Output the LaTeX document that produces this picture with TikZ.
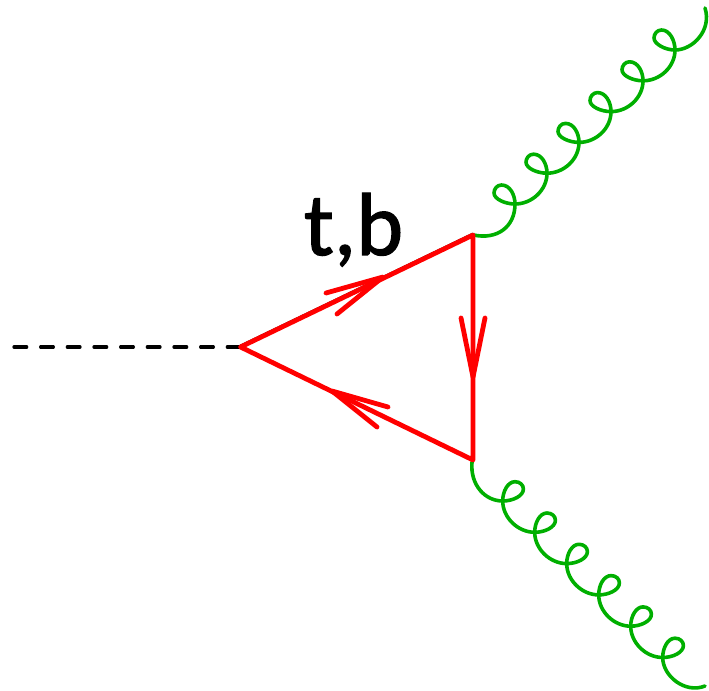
\documentclass[tikz,border=0pt]{standalone}
\usepackage{fontspec}
\setmainfont{Carlito}[FakeBold=1.4]
\definecolor{gluon}{RGB}{0,175,0}
\definecolor{quark}{RGB}{255,0,0}
\tikzset{
  x=0.75pt,y=-0.75pt,
  quarkline/.style={draw=quark,line width=3.6pt,line cap=round,line join=round},
  gluonline/.style={draw=gluon,line width=2.7pt,line cap=round,line join=round},
  scalarline/.style={draw=black,line width=2.5pt,line cap=round,dash pattern=on 9.5pt off 10.5pt},
  thinline/.style={draw=black,line width=1.6pt},
  labeltext/.style={font=\fontsize{67pt}{67pt}\selectfont,text=black,inner sep=0pt,anchor=base}
}
\begin{document}
\begin{tikzpicture}
\useasboundingbox (0,0) rectangle (709,691);
\coordinate (ext) at (14,347);
\coordinate (A) at (240.5,347);
\coordinate (B) at (473,235);
\coordinate (C) at (473,460);
\draw[scalarline] (ext) -- (A);
\draw[thinline] ([yshift=1pt]A) -- ([yshift=1pt]B);
% top gluon: six loops, period (32,-30.8)
\draw[gluonline] (473.5,235) .. controls (497,240) and (515,227) .. (515,204)
\foreach \i in {0,...,4}{
  .. controls ({515+32*\i},{204-30.8*\i-9}) and ({510+32*\i},{185-30.8*\i}) .. ({501.5+32*\i},{185-30.8*\i})
  .. controls ({497+32*\i},{185-30.8*\i}) and ({494+32*\i},{189-30.8*\i}) .. ({494+32*\i},{193-30.8*\i})
  .. controls ({494+32*\i},{199-30.8*\i}) and ({505+32*\i},{204-30.8*\i}) .. ({515+32*\i},{204-30.8*\i})
  .. controls ({532+32*\i},{204-30.8*\i}) and ({547+32*\i},{190-30.8*\i}) .. ({547+32*\i},{173.2-30.8*\i})
}
  .. controls (675,41) and (670,30) .. (661.5,30)
  .. controls (657,30) and (654,34) .. (654,38)
  .. controls (654,44) and (665,50) .. (675,50)
  .. controls (693,50) and (712,30) .. (705,8);
% bottom gluon: six loops, period (32,31.3)
\draw[gluonline] (472,462) .. controls (470,485) and (485,501) .. (502.7,501)
\foreach \i in {0,...,4}{
  .. controls ({512.7+32*\i},{501+31.3*\i}) and ({523.4+32*\i},{496+31.3*\i}) .. ({523.4+32*\i},{489+31.3*\i})
  .. controls ({523.4+32*\i},{485+31.3*\i}) and ({520+32*\i},{481.7+31.3*\i}) .. ({515+32*\i},{481.7+31.3*\i})
  .. controls ({508+32*\i},{481.7+31.3*\i}) and ({502.7+32*\i},{491+31.3*\i}) .. ({502.7+32*\i},{501+31.3*\i})
  .. controls ({502.7+32*\i},{517.7+31.3*\i}) and ({518+32*\i},{532.3+31.3*\i}) .. ({534.7+32*\i},{532.3+31.3*\i})
}
  .. controls (672.7,657.5) and (683.4,652.5) .. (683.4,645.5)
  .. controls (683.4,641.5) and (680,638.2) .. (675,638.2)
  .. controls (668,638.2) and (662.7,647.5) .. (662.7,657.5)
  .. controls (662.7,676) and (685,694) .. (705,686);
\draw[quarkline] (A) -- (B) -- (C) -- cycle;
% arrowheads
\draw[quarkline] (326,293) -- (383,277) -- (337,314);
\draw[quarkline] (461,318) -- (473,377) -- (485,318);
\draw[quarkline] (388,407) -- (332,391) -- (377,427);
\node[labeltext] (lab) at (353.5,255) {t,b};
\end{tikzpicture}
\end{document}
